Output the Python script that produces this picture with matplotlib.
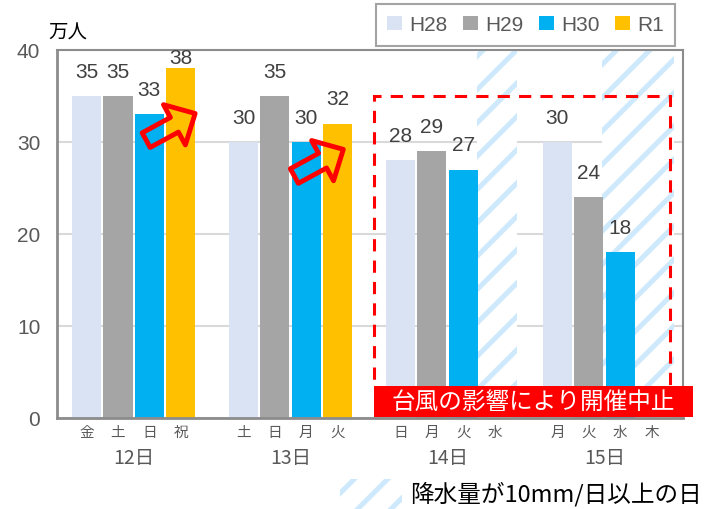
# 台風の影響 bar chart.

import matplotlib.pyplot as plt
import numpy as np
from matplotlib.patches import Rectangle, FancyArrowPatch, Patch

plt.rcParams['font.family'] = ['Liberation Sans', 'Noto Sans CJK JP', 'DejaVu Sans']
plt.rcParams['hatch.linewidth'] = 3.6

# Data
days = ['12日', '13日', '14日', '15日']
weekdays = [['金', '土', '日', '祝'],
            ['土', '日', '月', '火'],
            ['日', '月', '火', '水'],
            ['月', '火', '水', '木']]
series = ['H28', 'H29', 'H30', 'R1']
h28 = [35, 30, 28, 30]
h29 = [35, 35, 29, 24]
h30 = [33, 30, 27, 18]
r1 = [38, 32, np.nan, np.nan]
colors = ['#dae3f3', '#a5a5a5', '#00b0f0', '#ffc000']
# rainy days (group, slot)
rain_days = [(2, 3), (3, 2), (3, 3)]

values = [h28, h29, h30, r1]
hatch_color = '#cde9fb'
jp = ['Noto Sans CJK JP', 'DejaVu Sans']

fig = plt.figure(figsize=(7.22, 5.10), dpi=100)
ax = fig.add_axes([57 / 722, 1 - 419 / 510, 626 / 722, 368 / 510])

# hatched rain days
for g, s in rain_days:
    x = g * 5 + s
    ax.axvspan(x - 0.57, x + 0.72, facecolor='white', edgecolor=hatch_color,
               hatch='/', linewidth=0, zorder=1)

# bars
for s, vals in enumerate(values):
    for g, v in enumerate(vals):
        if np.isnan(v):
            continue
        x = g * 5 + s
        ax.bar(x, v, width=0.93, color=colors[s], zorder=2)
        ax.text(x, min(v + 2.7, 39.2), f'{v:g}', ha='center', va='center',
                fontsize=15, color='#404040', zorder=5)

# x ticks: weekdays
xticks = [g * 5 + s for g in range(4) for s in range(4)]
xlabels = [w for grp in weekdays for w in grp]
ax.set_xticks(xticks)
ax.set_xticklabels(xlabels, fontsize=10.5, color='#595959', family=jp)
ax.tick_params(axis='x', length=0, pad=5)
for g, d in enumerate(days):
    ax.text(g * 5 + 1.5, -0.106, d, transform=ax.get_xaxis_transform(),
            ha='center', va='center', fontsize=14, color='#595959', family=jp)

ax.set_xlim(-0.94, 19.0)
ax.set_ylim(0, 40)
ax.set_yticks([0, 10, 20, 30, 40])
ax.tick_params(axis='y', length=0, labelsize=15, labelcolor='#595959', pad=12)
ax.grid(axis='y', color='#d9d9d9', linewidth=1.5, zorder=0)
ax.set_axisbelow(True)
for sp in ax.spines.values():
    sp.set_color('#8c8c8c')
    sp.set_linewidth(1.5)
ax.spines['left'].set_linewidth(2)
ax.spines['bottom'].set_linewidth(2)

fig.text(48 / 722, 1 - 33 / 510, '万人', fontsize=14, color='black',
         ha='left', va='center', family=jp)

# red arrows
for (xa, ya), (xb, yb) in [((1.9, 30.2), (3.46, 33.1)),
                           ((6.62, 26.3), (8.18, 29.2))]:
    arr = FancyArrowPatch((xa, ya), (xb, yb),
                          arrowstyle='simple,head_width=33,head_length=17,tail_width=12',
                          mutation_scale=1, facecolor='none', edgecolor='#ff0000',
                          linewidth=3.5, shrinkA=0, shrinkB=0, zorder=6)
    ax.add_patch(arr)

# red dashed box
ax.add_patch(Rectangle((9.16, 3.3), 9.44, 31.7, fill=False, edgecolor='#ff0000',
                       linewidth=2.2, linestyle=(0, (4, 3)), zorder=6,
                       clip_on=False))
# label box
ax.add_patch(Rectangle((9.16, 0.1), 10.17, 3.38, facecolor='#ff0000',
                       edgecolor='none', zorder=7, clip_on=False))
ax.text(14.24, 1.75, '台風の影響により開催中止', ha='center', va='center',
        fontsize=17, color='white', zorder=8, family=jp)

# legend
handles = [Patch(facecolor=c, edgecolor='none') for c in colors]
leg = fig.legend(handles, series, loc='upper right',
                 bbox_to_anchor=(675 / 722, 1 - 5 / 510), ncol=4,
                 frameon=True, fancybox=False, fontsize=15,
                 handlelength=0.7, handleheight=0.7, handletextpad=0.35,
                 columnspacing=0.75, borderpad=0.55, borderaxespad=0)
leg.get_frame().set_edgecolor('#8c8c8c')
leg.get_frame().set_linewidth(1.5)
for t in leg.get_texts():
    t.set_color('#595959')

# rain legend
fig.patches.append(Rectangle((340 / 722, 0), 62 / 722, 30 / 510,
                             transform=fig.transFigure, facecolor='white',
                             edgecolor=hatch_color, hatch='/', linewidth=0))
fig.text(410 / 722, 1 - 494 / 510, '降水量が10mm/日以上の日', fontsize=17,
         color='black', ha='left', va='center', family=jp)

plt.savefig('out.png', dpi=100)
